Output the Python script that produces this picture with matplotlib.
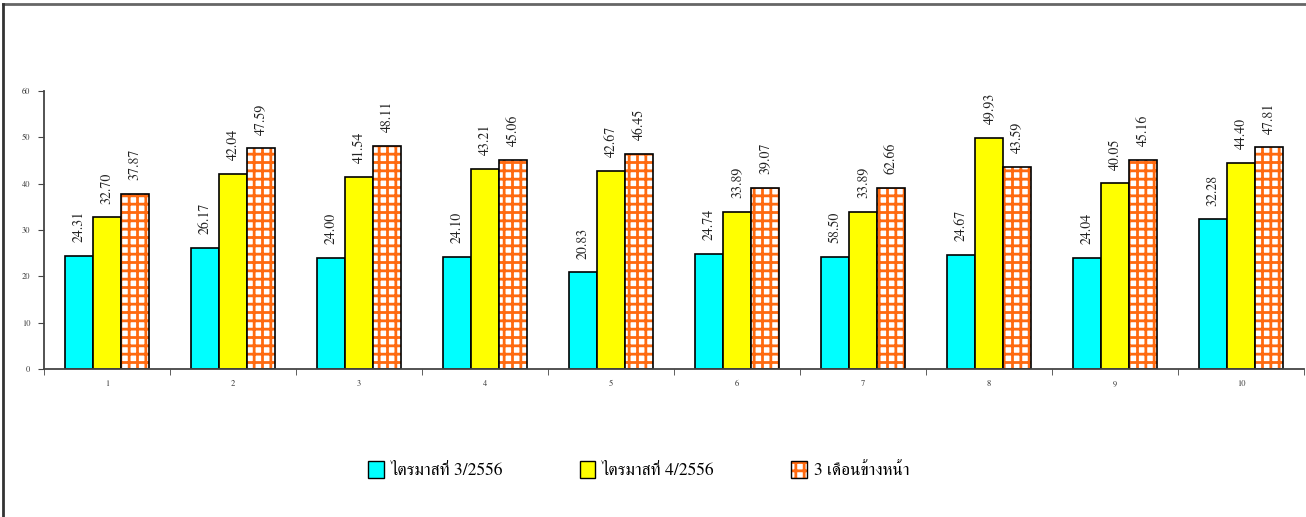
import numpy as np
import matplotlib
matplotlib.use("Agg")
import matplotlib.pyplot as plt
from matplotlib.patches import Patch
from matplotlib.lines import Line2D
from matplotlib.legend_handler import HandlerTuple
import matplotlib.font_manager as fm

# data
groups = [str(i) for i in range(1, 11)]
q3 = [24.31, 26.17, 24.00, 24.10, 20.83, 24.74, 24.10, 24.67, 24.04, 32.28]
q4 = [32.70, 42.04, 41.54, 43.21, 42.67, 33.89, 33.89, 49.93, 40.05, 44.40]
nxt = [37.87, 47.59, 48.11, 45.06, 46.45, 39.07, 39.07, 43.59, 45.16, 47.81]
# printed labels (group 7 labels differ from bar heights in the source)
q3_lbl = ["24.31", "26.17", "24.00", "24.10", "20.83", "24.74", "58.50", "24.67", "24.04", "32.28"]
q4_lbl = ["32.70", "42.04", "41.54", "43.21", "42.67", "33.89", "33.89", "49.93", "40.05", "44.40"]
nxt_lbl = ["37.87", "47.59", "48.11", "45.06", "46.45", "39.07", "62.66", "43.59", "45.16", "47.81"]
names = ["ไตรมาสที่ 3/2556", "ไตรมาสที่ 4/2556", "3 เดือนข้างหน้า"]

serif = ["FreeSerif", "Liberation Serif", "DejaVu Serif"]

plt.rcParams["hatch.linewidth"] = 2.0

fig = plt.figure(figsize=(13.06, 5.17), dpi=100)
ax = fig.add_axes([44/1306, 1 - 369/517, 1260/1306, 278/517])

x = np.arange(1, 11)
w = 0.222
orange = "#ff6a10"

ax.bar(x - w, q3, w, color="#00ffff", edgecolor="black", linewidth=1.2)
ax.bar(x, q4, w, color="#ffff00", edgecolor="black", linewidth=1.2)
ax.bar(x + w, nxt, w, color="white", edgecolor=orange, hatch="++", linewidth=0)
ax.bar(x + w, nxt, w, color="none", edgecolor="black", linewidth=1.2)

for off, vals, lbls in [(-w, q3, q3_lbl), (0, q4, q4_lbl), (w, nxt, nxt_lbl)]:
    for xi, v, s in zip(x + off, vals, lbls):
        ax.annotate(s, (xi, v), xytext=(0, 10), textcoords="offset points",
                    rotation=90, ha="center", va="bottom", fontsize=10,
                    family=serif, color="#222222")

ax.set_xlim(0.5, 10.5)
ax.set_ylim(0, 60)
ax.set_yticks(range(0, 61, 10))
ax.set_xticks(x, groups)
ax.set_xticks(np.arange(0.5, 11, 1), minor=True)
ax.tick_params(axis="x", which="major", length=0, pad=8)
ax.tick_params(axis="x", which="minor", length=4, color="#444444")
ax.tick_params(axis="y", length=4, color="#444444", pad=6)
for lab in ax.get_xticklabels() + ax.get_yticklabels():
    lab.set_family(serif)
    lab.set_fontsize(6)
    lab.set_color("#333333")
for s in ["top", "right"]:
    ax.spines[s].set_visible(False)
for s in ["left", "bottom"]:
    ax.spines[s].set_color("#444444")
    ax.spines[s].set_linewidth(1.3)

h1 = Patch(facecolor="#00ffff", edgecolor="black")
h2 = Patch(facecolor="#ffff00", edgecolor="black")
h3a = Patch(facecolor="white", edgecolor=orange, hatch="++", linewidth=0)
h3b = Patch(facecolor="none", edgecolor="black")
fig.legend([h1, h2, (h3a, h3b)], names, loc="center", bbox_to_anchor=(0.489, 1 - 470/517),
           ncol=3, frameon=False, handler_map={tuple: HandlerTuple(ndivide=1, pad=0)},
           prop=fm.FontProperties(family=serif, size=12.5),
           handlelength=0.9, handleheight=1.1, handletextpad=0.4, columnspacing=4.4)

# figure border (top and left visible)
fig.add_artist(Line2D([0.002, 1], [0.993, 0.993], color="#666666", lw=2, transform=fig.transFigure))
fig.add_artist(Line2D([0.002, 0.002], [0, 0.993], color="#333333", lw=2, transform=fig.transFigure))

fig.savefig("out.png", dpi=100)
